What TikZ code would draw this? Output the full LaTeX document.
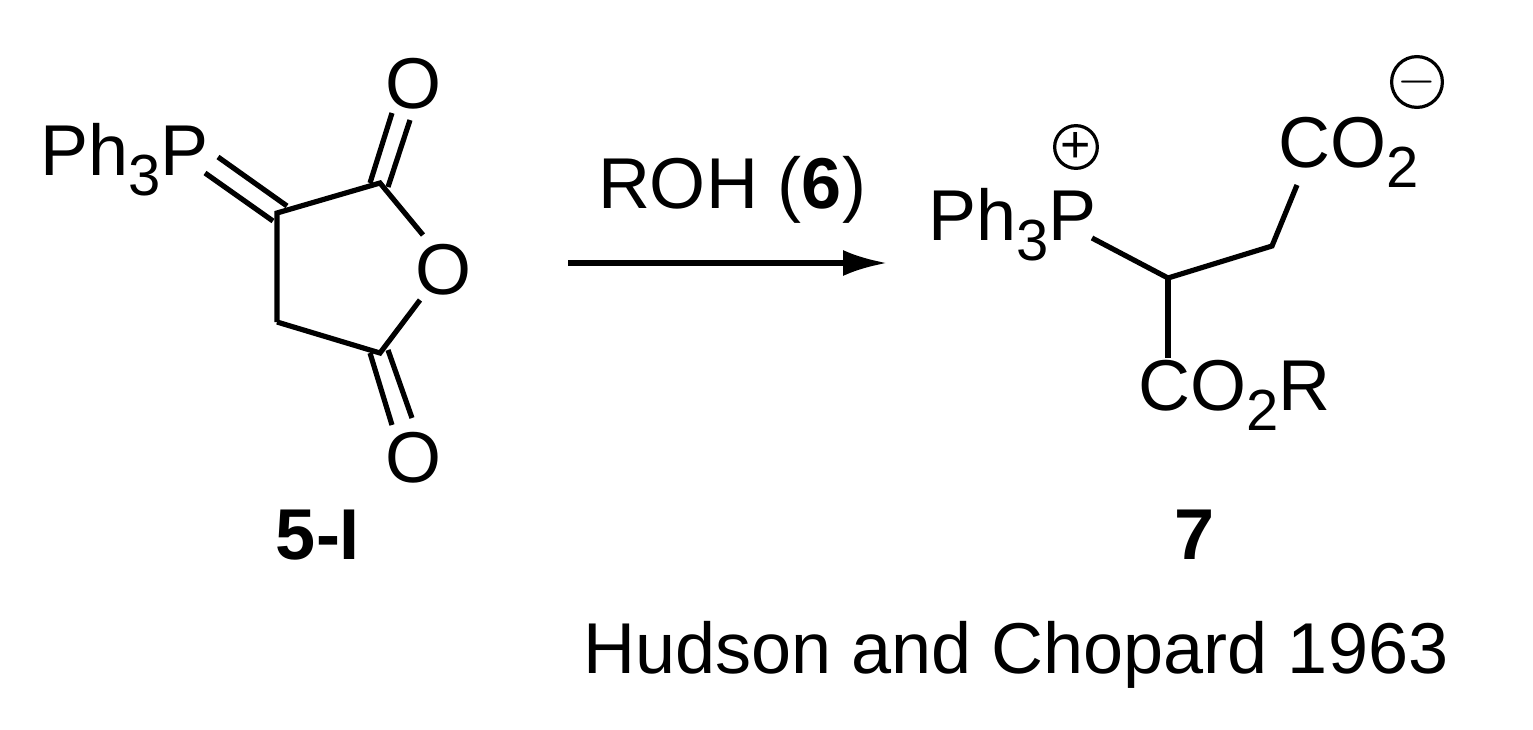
\documentclass[tikz,border=0pt]{standalone}
\usepackage{fontspec}
\setmainfont{Liberation Sans}
\usetikzlibrary{calc,arrows.meta}
\newcommand{\sbs}[1]{\raisebox{-0.28em}{\fontsize{29}{29}\selectfont #1}}
\begin{document}
\begin{tikzpicture}[x=0.5pt,y=-0.5pt,
  lbl/.style={inner sep=0pt,font=\fontsize{36}{40}\selectfont},
  bnd/.style={line width=2.6pt},
  chg/.style={circle,draw,line width=1.6pt,minimum size=18pt,inner sep=0pt}]
\useasboundingbox (0,0) rectangle (1533,729);
% compound 5-I
\node[lbl,anchor=west] (p1) at (40,160) {Ph\sbs{3}P};
\coordinate (c1) at (277,213);
\coordinate (c2) at (380,183);
\coordinate (c4) at (277,322);
\coordinate (c3) at (380,353);
\node[lbl] (or) at (443,270) {O};
\node[lbl] (ot) at (413,84) {O};
\node[lbl] (ob) at (413,458) {O};
\draw[bnd] (218,157) -- (287,206);
\draw[bnd] (205,173) -- (273,221);
\draw[bnd,line join=miter] (c4) -- (c1) -- (c2) -- (423,235);
\draw[bnd,line join=miter] (c4) -- (c3) -- (420,300);
\draw[bnd] (370,183) -- (392,113);
\draw[bnd] (388,187) -- (410,120);
\draw[bnd] (370,353) -- (392,425);
\draw[bnd] (388,350) -- (412,418);
\node[lbl,font=\bfseries\fontsize{36}{40}\selectfont] (n5) at (318,535) {5-I};
% arrow
\coordinate (a1) at (568,263);
\coordinate (a2) at (887,263);
\draw[bnd,-{Latex[length=22pt,width=13pt]}] (a1) -- (a2);
\node[lbl] (cond) at (732,190) {ROH (\textbf{6})};
% compound 7
\node[lbl,anchor=west] (p2) at (928,225) {Ph\sbs{3}P};
\node[chg] (plus) at (1076,147) {\fontsize{26}{26}\selectfont +};
\coordinate (ch) at (1168,278);
\coordinate (ch2) at (1272,246);
\node[lbl,anchor=west] (co2) at (1278,152) {CO\sbs{2}};
\node[chg] (minus) at (1417,82) {\fontsize{26}{26}\selectfont $-$};
\node[lbl,anchor=west] (co2r) at (1138,395) {CO\sbs{2}R};
\draw[bnd,line join=miter] (1092,238) -- (ch) -- (ch2) -- (1297,185);
\draw[bnd] (ch) -- (1168,358);
\node[lbl,font=\bfseries\fontsize{36}{40}\selectfont] (n7) at (1195,535) {7};
\node[lbl] (ref) at (1016,655) {Hudson and Chopard 1963};
\end{tikzpicture}
\end{document}
